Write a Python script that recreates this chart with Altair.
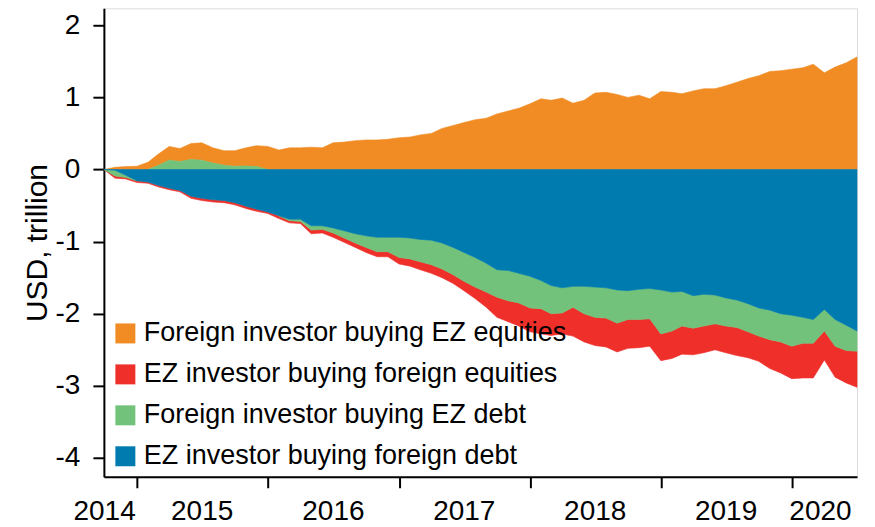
import calendar
import altair as alt
import pandas as pd

FONT = "Liberation Sans"

# monthly observations (month end), Sep 2014 - Jun 2020
months = []
yy, mm = 2014, 9
for _ in range(70):
    months.append(f"{yy}-{mm:02d}-{calendar.monthrange(yy, mm)[1]:02d}")
    mm += 1
    if mm > 12:
        mm = 1
        yy += 1

series_names = [
    "Foreign investor buying EZ equities",
    "EZ investor buying foreign equities",
    "Foreign investor buying EZ debt",
    "EZ investor buying foreign debt",
]
series_colors = ["#F08C23", "#EE2F2A", "#72C27B", "#007BB0"]
# stacking order: nearest to zero first
stack_rank = [3, 2, 1, 0]

fx_buy_ez_equities = [
    0, 0.03, 0.04, 0.045, 0.10, 0.155, 0.19, 0.18, 0.22, 0.24,
    0.21, 0.20, 0.215, 0.25, 0.29, 0.32, 0.27, 0.30, 0.30, 0.31,
    0.30, 0.37, 0.38, 0.40, 0.41, 0.41, 0.42, 0.44, 0.45, 0.48,
    0.50, 0.57, 0.61, 0.65, 0.69, 0.71, 0.77, 0.81, 0.85, 0.91,
    0.98, 0.96, 0.99, 0.92, 0.96, 1.06, 1.07, 1.04, 1.00, 1.03,
    0.98, 1.08, 1.07, 1.05, 1.09, 1.12, 1.12, 1.16, 1.21, 1.26,
    1.30, 1.36, 1.37, 1.39, 1.41, 1.46, 1.34, 1.42, 1.48, 1.56,
]
ez_buy_fx_equities = [
    0, -0.03, -0.02, -0.02, -0.015, -0.02, -0.02, -0.02, -0.03, -0.03,
    -0.03, -0.03, -0.03, -0.03, -0.03, -0.02, -0.035, -0.03, -0.03, -0.05,
    -0.05, -0.06, -0.06, -0.06, -0.07, -0.07, -0.07, -0.09, -0.10, -0.11,
    -0.12, -0.12, -0.12, -0.13, -0.16, -0.21, -0.28, -0.29, -0.32, -0.33,
    -0.35, -0.30, -0.29, -0.40, -0.39, -0.39, -0.40, -0.40, -0.40, -0.39,
    -0.38, -0.37, -0.38, -0.39, -0.37, -0.37, -0.36, -0.37, -0.39, -0.36,
    -0.35, -0.40, -0.43, -0.45, -0.48, -0.48, -0.40, -0.43, -0.45, -0.50,
]
fx_buy_ez_debt = [
    0, -0.08, -0.03, -0.005, 0, 0.055, 0.13, 0.11, 0.14, 0.13,
    0.09, 0.06, 0.045, 0.05, 0.04, 0, -0.005, -0.02, -0.03, -0.06,
    -0.05, -0.07, -0.10, -0.13, -0.16, -0.20, -0.20, -0.28, -0.29, -0.31,
    -0.34, -0.36, -0.38, -0.40, -0.41, -0.40, -0.38, -0.42, -0.41, -0.44,
    -0.39, -0.39, -0.35, -0.29, -0.38, -0.42, -0.42, -0.46, -0.40, -0.42,
    -0.42, -0.61, -0.54, -0.48, -0.45, -0.44, -0.40, -0.39, -0.38, -0.39,
    -0.39, -0.41, -0.39, -0.43, -0.36, -0.33, -0.30, -0.37, -0.35, -0.28,
]
ez_buy_fx_debt = [
    0, -0.01, -0.08, -0.155, -0.175, -0.22, -0.26, -0.29, -0.37, -0.40,
    -0.42, -0.43, -0.46, -0.51, -0.55, -0.59, -0.64, -0.69, -0.69, -0.78,
    -0.78, -0.81, -0.85, -0.89, -0.92, -0.94, -0.94, -0.94, -0.95, -0.97,
    -0.98, -1.02, -1.08, -1.15, -1.22, -1.30, -1.39, -1.40, -1.44, -1.48,
    -1.54, -1.61, -1.64, -1.62, -1.62, -1.63, -1.64, -1.67, -1.68, -1.66,
    -1.65, -1.67, -1.70, -1.69, -1.75, -1.73, -1.74, -1.78, -1.81, -1.86,
    -1.92, -1.95, -2.00, -2.02, -2.05, -2.08, -1.94, -2.08, -2.16, -2.24,
]

year_labels = ["2014", "2015", "2016", "2017", "2018", "2019", "2020"]
year_label_dates = ["2014-10-02", "2015-07-01", "2016-07-01", "2017-07-01",
                    "2018-07-01", "2019-07-01", "2020-03-20"]
y_ticks = [-4, -3, -2, -1, 0, 1, 2]

rows = []
for name, rank, vals in zip(series_names, stack_rank,
                            [fx_buy_ez_equities, ez_buy_fx_equities,
                             fx_buy_ez_debt, ez_buy_fx_debt]):
    for d, v in zip(months, vals):
        rows.append({"date": d, "value": v, "series": name, "rank": rank})
df = pd.DataFrame(rows)
lab_df = pd.DataFrame({"date": year_label_dates, "text": year_labels})

x_enc = alt.X(
    "date:T",
    scale=alt.Scale(nice=False, padding=0),
    axis=alt.Axis(
        values=[alt.DateTime(year=y, month=1, date=1) for y in range(2015, 2021)],
        labels=False, title=None, grid=False,
        tickSize=11, tickWidth=2, tickColor="black",
        domainColor="black", domainWidth=2,
    ),
)

area = alt.Chart(df).mark_area(interpolate="linear", strokeWidth=0.6).encode(
    x=x_enc,
    y=alt.Y(
        "value:Q",
        stack="zero",
        scale=alt.Scale(domain=[-4.26, 2.235], nice=False, zero=False),
        axis=alt.Axis(
            values=y_ticks, grid=False, title="USD, trillion",
            titleFont=FONT, titleFontSize=30, titleFontWeight="normal",
            titleColor="black", titlePadding=3,
            labelFont=FONT, labelFontSize=28, labelColor="black",
            labelPadding=13,
            labelExpr="datum.value < 0 ? '-' + toString(-datum.value) : toString(datum.value)",
            tickSize=11, tickWidth=2, tickColor="black",
            domainColor="black", domainWidth=2,
        ),
    ),
    color=alt.Color(
        "series:N",
        scale=alt.Scale(domain=series_names, range=series_colors),
        legend=alt.Legend(
            title=None, orient="none", legendX=8, legendY=312,
            symbolType="square", symbolSize=400, symbolStrokeWidth=0,
            symbolOpacity=1, labelFont=FONT, labelFontSize=27,
            labelColor="black", labelOffset=5, rowPadding=13,
            padding=0, labelLimit=700,
        ),
    ),
    stroke=alt.Stroke("series:N", scale=alt.Scale(domain=series_names, range=series_colors), legend=None),
    order=alt.Order("rank:Q", sort="ascending"),
)

years = alt.Chart(lab_df).mark_text(
    font=FONT, fontSize=28, color="black", align="center", baseline="alphabetic"
).encode(
    x=alt.X("date:T"),
    y=alt.value(512),
    text="text:N",
)

chart = alt.layer(area, years).properties(
    width=754, height=469,
    autosize=alt.AutoSizeParams(type="none"),
    padding={"left": 96, "top": 0, "right": 10, "bottom": 50},
).configure_view(stroke=None).configure(background="white")

chart.save("out.html", embed_options={"renderer": "svg", "actions": False})
